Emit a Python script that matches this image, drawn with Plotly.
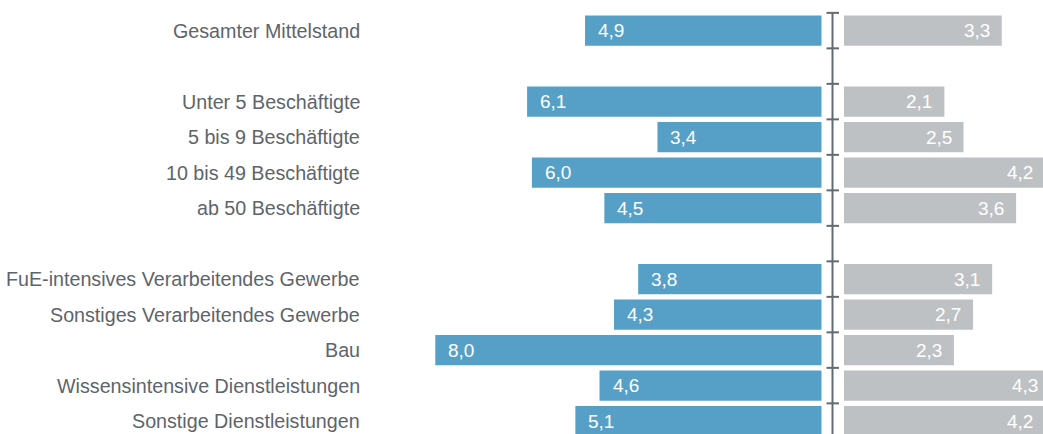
import plotly.graph_objects as go

labels = [
    "Gesamter Mittelstand",
    "Unter 5 Beschäftigte",
    "5 bis 9 Beschäftigte",
    "10 bis 49 Beschäftigte",
    "ab 50 Beschäftigte",
    "FuE-intensives Verarbeitendes Gewerbe",
    "Sonstiges Verarbeitendes Gewerbe",
    "Bau",
    "Wissensintensive Dienstleistungen",
    "Sonstige Dienstleistungen",
]
blue_vals = [4.9, 6.1, 3.4, 6.0, 4.5, 3.8, 4.3, 8.0, 4.6, 5.1]
gray_vals = [3.3, 2.1, 2.5, 4.2, 3.6, 3.1, 2.7, 2.3, 4.3, 4.2]
group_sizes = [1, 4, 5]

W, H = 1043, 434
BLUE = "#56A0C8"
GRAY = "#BEC1C4"
TXT = "#5e646b"
AX = "#636a72"
FONT = "Liberation Sans, Arial, sans-serif"

# slot positions with one empty slot between groups
ypos = []
slot = 0
for g in group_sizes:
    for _ in range(g):
        ypos.append(slot)
        slot += 1
    slot += 1
n_slots = slot - 1

def fmt(v):
    return f"{v:.1f}".replace(".", ",")

fig = go.Figure()
fig.add_trace(go.Bar(y=ypos, x=blue_vals, orientation="h", xaxis="x", yaxis="y",
                     marker=dict(color=BLUE, line=dict(width=0)), width=0.85,
                     hoverinfo="skip", showlegend=False))
fig.add_trace(go.Bar(y=ypos, x=gray_vals, orientation="h", xaxis="x2", yaxis="y",
                     marker=dict(color=GRAY, line=dict(width=0)), width=0.85,
                     hoverinfo="skip", showlegend=False))

pitch = 35.5
c0 = 30.6
y_top = -c0 / pitch
y_bot = (H - c0) / pitch

left_end = 821.7
px_left = 48.3
right_start = 844.0
px_right = 47.8
x2_dom = [right_start / W, 1.0]
x2_rng = [0.0, (W - right_start) / px_right]

def x2_to_paper(v):
    # linear mapping of the x2 axis (range -> domain), extended past the range end
    return x2_dom[0] + (v - x2_rng[0]) / (x2_rng[1] - x2_rng[0]) * (x2_dom[1] - x2_dom[0])

ann = []
for lab, y in zip(labels, ypos):
    ann.append(dict(x=361.5 / W, xref="paper", y=y, yref="y", text=lab, showarrow=False,
                    xanchor="right", yanchor="middle",
                    font=dict(family=FONT, size=19.7, color=TXT)))
for v, y in zip(blue_vals, ypos):
    ann.append(dict(x=v, xref="x", y=y, yref="y", text=fmt(v), showarrow=False,
                    xanchor="left", yanchor="middle", xshift=11,
                    font=dict(family=FONT, size=19, color="white")))
for v, y in zip(gray_vals, ypos):
    ann.append(dict(x=x2_to_paper(v), xref="paper", y=y, yref="y", text=fmt(v), showarrow=False,
                    xanchor="right", yanchor="middle", xshift=-10,
                    font=dict(family=FONT, size=19, color="white")))

axx = 832.5 / W
shapes = [dict(type="line", xref="paper", yref="y", x0=axx, x1=axx, y0=-0.5, y1=n_slots + 1,
               line=dict(color=AX, width=2))]
for k in range(n_slots + 2):
    shapes.append(dict(type="line", xref="paper", yref="y", x0=826.5 / W, x1=839 / W,
                       y0=k - 0.5, y1=k - 0.5, line=dict(color=AX, width=2)))

fig.update_layout(
    width=W, height=H,
    margin=dict(l=0, r=0, t=0, b=0),
    paper_bgcolor="white", plot_bgcolor="white",
    barmode="overlay",
    hovermode=False,
    xaxis=dict(domain=[0, left_end / W], range=[left_end / px_left, 0], visible=False,
               showgrid=False, zeroline=False, fixedrange=True),
    xaxis2=dict(domain=x2_dom, range=x2_rng, fixedrange=True,
                visible=False, showgrid=False, zeroline=False, anchor="y"),
    yaxis=dict(range=[y_bot, y_top], visible=False, showgrid=False, zeroline=False,
               fixedrange=True),
    annotations=ann,
    shapes=shapes,
)

fig.write_html("out.html", config={"displayModeBar": False, "staticPlot": True},
               post_script="document.body.style.margin='0';document.body.style.overflow='hidden';")
